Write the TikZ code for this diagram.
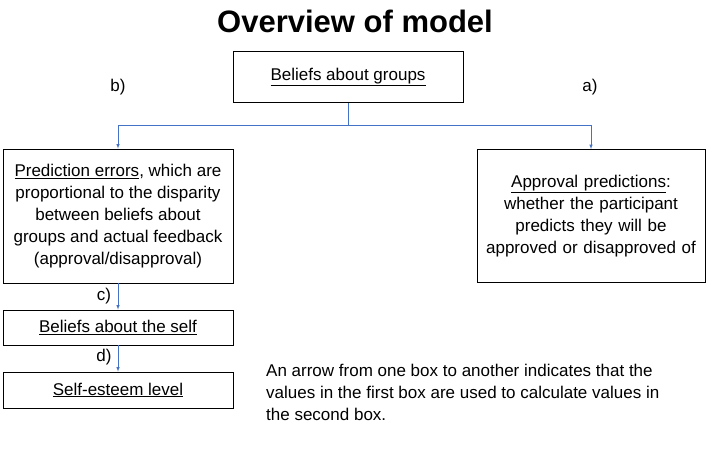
\documentclass[tikz,border=0pt]{standalone}
\usepackage{fontspec}
\setmainfont{Liberation Sans}
\usetikzlibrary{positioning}
\begin{document}
\begin{tikzpicture}[x=1pt,y=-1pt,font=\fontsize{17}{22}\selectfont]
\tikzstyle{mybox}=[draw=black,thick,align=center,inner sep=0pt];
\tikzstyle{myarrow}=[draw={rgb,255:red,68;green,114;blue,196},semithick,-latex];
\tikzstyle{myline}=[draw={rgb,255:red,68;green,114;blue,196},semithick];

\useasboundingbox (0,0) rectangle (708,459);

\node[font=\fontsize{31}{34}\selectfont\bfseries] (title) at (355,21) {Overview of model};

% boxes
\node[mybox,minimum width=230,minimum height=51] (groups) at (348,77) {\underline{Beliefs about groups}};
\node[mybox,minimum width=230,minimum height=134] (errors) at (118,216)
  {\underline{Prediction errors}, which are\\proportional to the disparity\\between beliefs about\\groups and actual feedback\\(approval/disapproval)};
\node[mybox,minimum width=228,minimum height=133,text width=220] (approval) at (591,216)
  {\underline{Approval predictions}:\\whether the participant\\predicts they will be\\approved or disapproved of};
\node[mybox,minimum width=230,minimum height=35] (self) at (118,327.5) {\underline{Beliefs about the self}};
\node[mybox,minimum width=230,minimum height=36] (esteem) at (118,390) {\underline{Self-esteem level}};

% connectors
\coordinate (split) at (348,125);
\draw[myline] (groups.south) -- (split);
\draw[myarrow] (split) -| (errors.north);
\draw[myarrow] (split) -| (approval.north);
\draw[myarrow] (errors.south) -- (self.north);
\draw[myarrow] (self.south) -- (esteem.north);

% labels
\node (lb) at (118,87) {b)};
\node (la) at (590,87) {a)};
\node (lc) at (104,296) {c)};
\node (ld) at (104,357) {d)};

\node[align=left,anchor=north west,inner sep=0pt] (note) at (266,364)
  {An arrow from one box to another indicates that the\\values in the first box are used to calculate values in\\the second box.};
\end{tikzpicture}
\end{document}
